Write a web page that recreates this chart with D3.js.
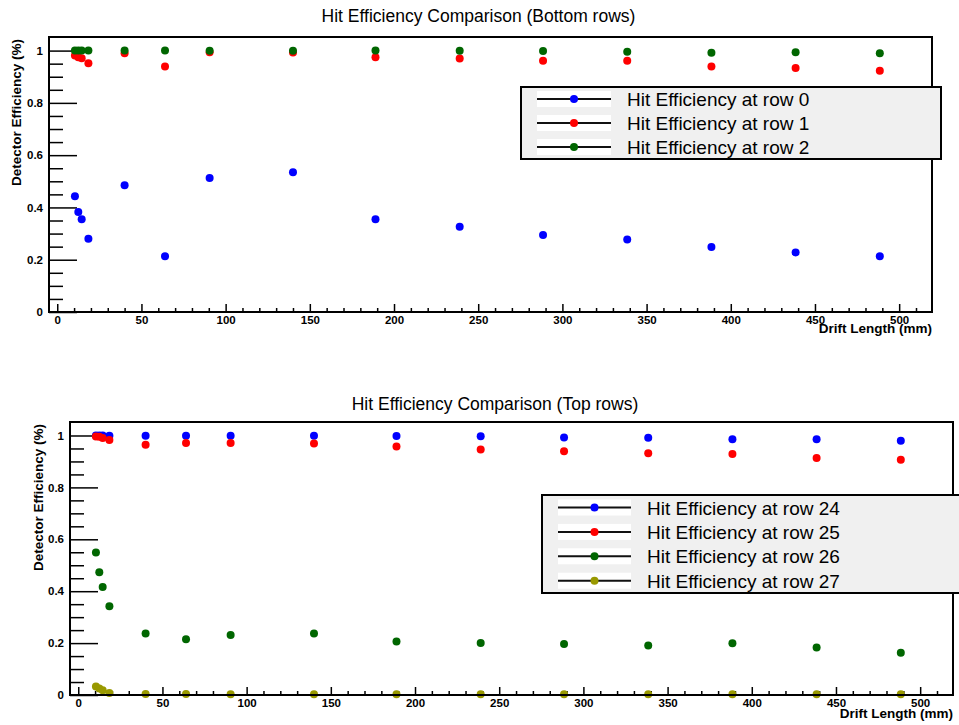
<!DOCTYPE html>
<html>
<head>
<meta charset="utf-8">
<script src="https://cdn.jsdelivr.net/npm/d3@7"></script>
<style>
  html, body { margin: 0; padding: 0; background: #fff; }
  svg text { font-family: "Liberation Sans", Arial, Helvetica, sans-serif; }
</style>
</head>
<body>
<svg id="chart" width="959" height="725"></svg>
<script>
// ---------------- data ----------------
const driftLength = [10.5, 12.5, 14.5, 18.5, 40, 64, 90.5, 140, 189, 239, 288.5, 338.5, 388.5, 438.5, 488.5];

const row0  = [0.443, 0.383, 0.355, 0.280, 0.485, 0.213, 0.513, 0.535, 0.355, 0.326, 0.295, 0.277, 0.249, 0.228, 0.213];
const row1  = [0.981, 0.975, 0.971, 0.952, 0.990, 0.939, 0.994, 0.993, 0.975, 0.970, 0.961, 0.961, 0.939, 0.933, 0.923];
const row2  = [1.000, 1.000, 1.000, 1.000, 1.000, 1.000, 0.999, 0.999, 1.000, 0.999, 0.998, 0.996, 0.992, 0.994, 0.990];

const row24 = [1.000, 1.000, 1.000, 0.999, 0.999, 0.999, 0.999, 0.999, 0.998, 0.997, 0.992, 0.991, 0.986, 0.986, 0.980];
const row25 = [0.996, 0.995, 0.990, 0.983, 0.964, 0.971, 0.971, 0.969, 0.958, 0.946, 0.939, 0.932, 0.929, 0.913, 0.907];
const row26 = [0.549, 0.473, 0.416, 0.342, 0.237, 0.215, 0.231, 0.237, 0.206, 0.200, 0.197, 0.191, 0.199, 0.183, 0.163];
const row27 = [0.033, 0.025, 0.018, 0.008, 0.004, 0.004, 0.003, 0.003, 0.003, 0.003, 0.003, 0.003, 0.003, 0.003, 0.003];

const xMajorTicks = [0, 50, 100, 150, 200, 250, 300, 350, 400, 450, 500];
const yMajorTicks = [0, 0.2, 0.4, 0.6, 0.8, 1];

const topTitle = "Hit Efficiency Comparison (Bottom rows)";
const bottomTitle = "Hit Efficiency Comparison (Top rows)";
const xTitle = "Drift Length (mm)";
const yTitle = "Detector Efficiency (%)";

const topSeries = [
  { label: "Hit Efficiency at row 0", values: row0, color: "#0000ff" },
  { label: "Hit Efficiency at row 1", values: row1, color: "#ff0000" },
  { label: "Hit Efficiency at row 2", values: row2, color: "#006600" }
];
const bottomSeries = [
  { label: "Hit Efficiency at row 24", values: row24, color: "#0000ff" },
  { label: "Hit Efficiency at row 25", values: row25, color: "#ff0000" },
  { label: "Hit Efficiency at row 26", values: row26, color: "#006600" },
  { label: "Hit Efficiency at row 27", values: row27, color: "#999900" }
];

// ---------------- drawing ----------------
const svg = d3.select("#chart");
const xMinor = d3.range(-0, 520, 10).filter(v => v % 50 !== 0);
const yMinor = d3.range(0, 21).map(i => +(i * 0.05).toFixed(2)).filter(v => Math.round(v * 100) % 20 !== 0);

function panel(cfg) {
  const g = svg.append("g");
  const x = d3.scaleLinear().domain([-4.9, 519.5]).range([cfg.left, cfg.right]);
  const y = d3.scaleLinear().domain([0, 1.052]).range([cfg.bottom, cfg.top]);

  // title
  g.append("text").attr("x", cfg.titleX).attr("y", cfg.titleY)
    .attr("text-anchor", "middle").attr("font-size", 17.5).text(cfg.title);

  // x axis major / minor (ticks inward)
  const xa = g.append("g").attr("transform", `translate(0,${cfg.bottom})`)
    .call(d3.axisBottom(x).tickValues(xMajorTicks).tickSize(-8).tickPadding(4).tickFormat(d3.format("d")));
  xa.select(".domain").remove();
  xa.selectAll("text").attr("font-size", 11.5).attr("font-weight", "bold").attr("fill", "#000").attr("font-family", "Liberation Sans, Arial, sans-serif");
  xa.selectAll("line").attr("stroke", "#000").attr("stroke-width", 1.5);
  const xm = g.append("g").attr("transform", `translate(0,${cfg.bottom})`)
    .call(d3.axisBottom(x).tickValues(xMinor).tickSize(-4).tickFormat(""));
  xm.select(".domain").remove();
  xm.selectAll("line").attr("stroke", "#000").attr("stroke-width", 1.5);

  // y axis
  const ya = g.append("g").attr("transform", `translate(${cfg.left},0)`)
    .call(d3.axisLeft(y).tickValues(yMajorTicks).tickSize(-28).tickPadding(6).tickFormat(d => String(+d.toFixed(1))));
  ya.select(".domain").remove();
  ya.selectAll("text").attr("font-size", 11.5).attr("font-weight", "bold").attr("fill", "#000").attr("font-family", "Liberation Sans, Arial, sans-serif");
  ya.selectAll("line").attr("stroke", "#000").attr("stroke-width", 1.5);
  const ym = g.append("g").attr("transform", `translate(${cfg.left},0)`)
    .call(d3.axisLeft(y).tickValues(yMinor).tickSize(-14).tickFormat(""));
  ym.select(".domain").remove();
  ym.selectAll("line").attr("stroke", "#000").attr("stroke-width", 1.5);

  // axis titles
  g.append("text").attr("x", cfg.right).attr("y", cfg.xTitleY)
    .attr("text-anchor", "end").attr("font-size", 13.5).attr("font-weight", "bold").text(xTitle);
  g.append("text").attr("transform", `translate(${cfg.yTitleX},${cfg.top + 2}) rotate(-90)`)
    .attr("text-anchor", "end").attr("font-size", 13.5).attr("font-weight", "bold").text(yTitle);

  // points
  cfg.series.forEach(s => {
    g.append("g").selectAll("circle").data(driftLength.map((d, i) => [d, s.values[i]]))
      .join("circle")
      .attr("cx", d => x(d[0])).attr("cy", d => y(d[1])).attr("r", 4)
      .attr("fill", s.color);
  });

  // frame
  g.append("rect").attr("x", cfg.left).attr("y", cfg.top)
    .attr("width", cfg.right - cfg.left).attr("height", cfg.bottom - cfg.top)
    .attr("fill", "none").attr("stroke", "#000").attr("stroke-width", 2);

  // legend
  const L = cfg.legend;
  const lg = g.append("g");
  lg.append("rect").attr("x", L.x0).attr("y", L.y0).attr("width", L.x1 - L.x0).attr("height", L.y1 - L.y0)
    .attr("fill", "#f0f0f0").attr("stroke", "#000").attr("stroke-width", 2);
  cfg.series.forEach((s, i) => {
    const cy = L.firstRow + i * L.rowStep;
    lg.append("rect").attr("x", L.sx0).attr("y", cy - 8).attr("width", L.sx1 - L.sx0).attr("height", 16).attr("fill", "#fff");
    lg.append("line").attr("x1", L.sx0).attr("x2", L.sx1).attr("y1", cy).attr("y2", cy)
      .attr("stroke", "#111").attr("stroke-width", 2);
    lg.append("circle").attr("cx", (L.sx0 + L.sx1) / 2).attr("cy", cy).attr("r", 4).attr("fill", s.color);
    lg.append("text").attr("x", L.tx).attr("y", cy + 7).attr("font-size", 19).text(s.label);
  });
}

panel({
  left: 49, right: 932, top: 37, bottom: 312,
  title: topTitle, titleX: 478.5, titleY: 22,
  xTitleY: 333, yTitleX: 21,
  series: topSeries,
  legend: { x0: 521, x1: 941, y0: 87, y1: 159, firstRow: 99, rowStep: 24, sx0: 537, sx1: 611, tx: 627 }
});

panel({
  left: 70, right: 953, top: 422, bottom: 695,
  title: bottomTitle, titleX: 495, titleY: 410,
  xTitleY: 718, yTitleX: 43,
  series: bottomSeries,
  legend: { x0: 542, x1: 966, y0: 495, y1: 593, firstRow: 507.5, rowStep: 24.4, sx0: 558, sx1: 631, tx: 647 }
});
</script>
</body>
</html>
